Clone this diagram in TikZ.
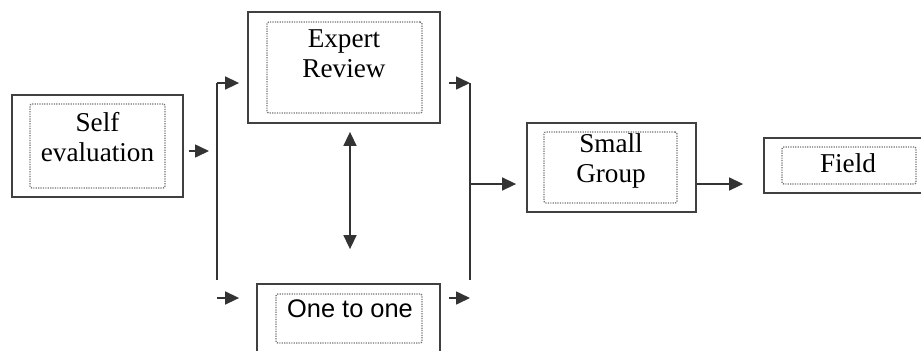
\documentclass[tikz,border=0pt]{standalone}
\usepackage{fontspec}
\setmainfont{Liberation Serif}
\setsansfont{Liberation Sans}
\usetikzlibrary{arrows.meta, positioning, calc}

\begin{document}
\begin{tikzpicture}[
        x=0.5pt, y=-0.5pt,
        outerbox/.style={rectangle, draw=black!75, line width=0.9pt, inner sep=0pt},
        innerbox/.style={rectangle, draw=black!55, dash pattern=on 0.6pt off 0.6pt, line width=0.7pt, rounded corners=1pt, inner sep=0pt},
        label/.style={align=center, inner sep=0pt, font=\fontsize{13.6}{14.8}\selectfont},
        link/.style={draw=black!80, line width=0.8pt},
        flow/.style={link, -{Triangle[length=7pt, width=6.5pt]}},
        dflow/.style={link, {Triangle[length=7pt, width=6.5pt]}-{Triangle[length=7pt, width=6.5pt]}}
    ]
        \clip (0,0) rectangle (921,350);

        % Boxes
        \node[outerbox, minimum width=85.5pt, minimum height=51pt] (self) at (97.5,146) {};
        \node[innerbox, minimum width=67.5pt, minimum height=42pt] (selfin) at (97.5,146) {};
        \node[label] (selftxt) at (97.5,137) {Self\\evaluation};

        \node[outerbox, minimum width=96pt, minimum height=55.5pt] (expert) at (344,67.5) {};
        \node[innerbox, minimum width=77.5pt, minimum height=45.5pt] (expertin) at (344.5,67.5) {};
        \node[label] (experttxt) at (344,54) {Expert\\Review};

        \node[outerbox, minimum width=91.5pt, minimum height=39pt] (one) at (348.5,323) {};
        \node[innerbox, minimum width=73pt, minimum height=24.5pt] (onein) at (349,318.5) {};
        \node[label, font=\sffamily\fontsize{12.7}{14}\selectfont] (onetxt) at (350,309) {One to one};

        \node[outerbox, minimum width=84.5pt, minimum height=44.5pt] (small) at (611.5,167.5) {};
        \node[innerbox, minimum width=66.5pt, minimum height=35.5pt] (smallin) at (610.5,167.5) {};
        \node[label] (smalltxt) at (611,161) {Small\\Group};

        \node[outerbox, minimum width=80.5pt, minimum height=27.5pt] (field) at (844.5,165.5) {};
        \node[innerbox, minimum width=67pt, minimum height=18.5pt] (fieldin) at (849,165.5) {};
        \node[label] (fieldtxt) at (848,163) {Field};

        % Split and join points
        \coordinate (ltop) at (217,83);
        \coordinate (lbot) at (217,280);
        \coordinate (lin) at (217,298);
        \coordinate (rtop) at (470,83);
        \coordinate (rbot) at (470,280);
        \coordinate (rmid) at (470,184);

        % Left split
        \draw[flow] ([xshift=2.5pt]self.east |- 0,151) -- ([xshift=-4pt]ltop |- 0,151);
        \draw[link] (ltop) -- (lbot);
        \draw[flow] (ltop) -- ([xshift=-4pt]ltop -| expert.west);
        \draw[flow] (lin) -- ([xshift=-8.5pt]lin -| one.west);

        % Between reviews
        \draw[dflow] ([yshift=-4pt]expert.south -| 350,0) -- ([yshift=17pt]one.north -| 350,0);

        % Right join
        \draw[flow] ([xshift=4pt]expert.east |- rtop) -- (rtop);
        \draw[flow] ([xshift=4pt]one.east |- lin) -- (lin -| rtop);
        \draw[link] (rtop) -- (rbot);
        \draw[flow] (rmid) -- ([xshift=-5pt]rmid -| small.west);

        % Small group to field
        \draw[flow] (rmid -| small.east) -- ([xshift=-10pt]rmid -| field.west);
\end{tikzpicture}
\end{document}
